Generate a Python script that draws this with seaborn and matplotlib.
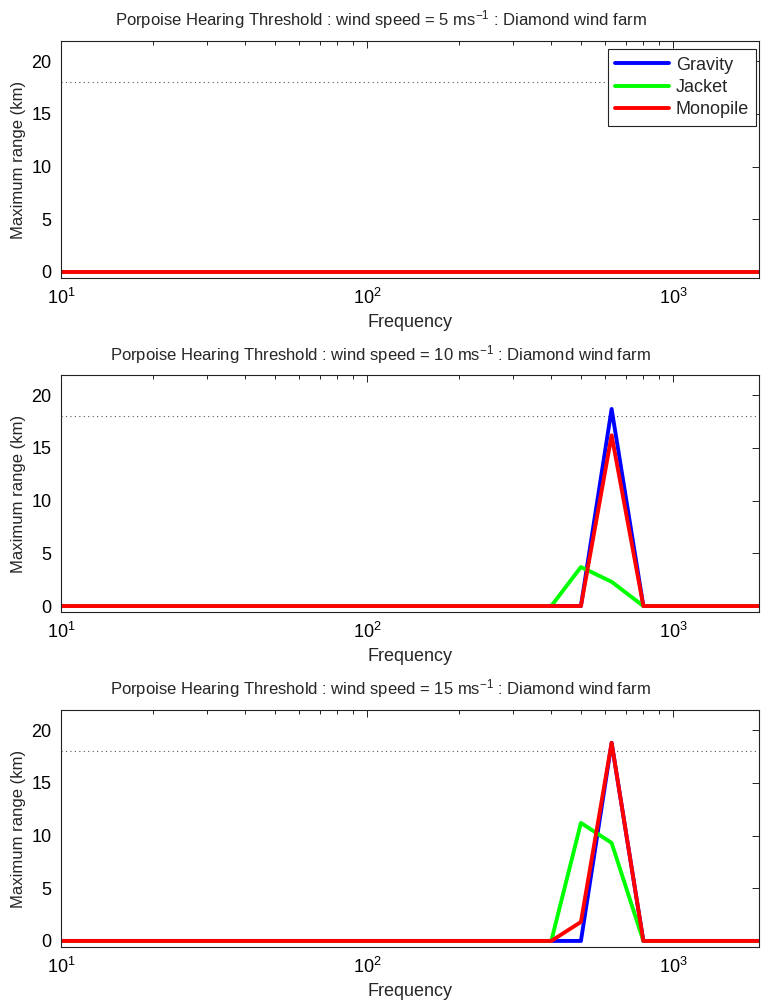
import pandas as pd
import matplotlib
matplotlib.use("Agg")
import matplotlib.pyplot as plt
import matplotlib.ticker as mticker
import seaborn as sns

# third-octave band centre frequencies (Hz)
freqs = [10, 12.5, 16, 20, 25, 31.5, 40, 50, 63, 80, 100, 125, 160, 200,
         250, 315, 400, 500, 630, 800, 1000, 1250, 1600, 2000]

foundations = ["Gravity", "Jacket", "Monopile"]
wind_speeds = [5, 10, 15]

# maximum range (km) per band, one list per foundation and wind speed
gravity_5 = [0, 0, 0, 0, 0, 0, 0, 0, 0, 0, 0, 0, 0, 0, 0, 0, 0, 0, 0, 0, 0, 0, 0, 0]
jacket_5 = [0, 0, 0, 0, 0, 0, 0, 0, 0, 0, 0, 0, 0, 0, 0, 0, 0, 0, 0, 0, 0, 0, 0, 0]
monopile_5 = [0, 0, 0, 0, 0, 0, 0, 0, 0, 0, 0, 0, 0, 0, 0, 0, 0, 0, 0, 0, 0, 0, 0, 0]

gravity_10 = [0, 0, 0, 0, 0, 0, 0, 0, 0, 0, 0, 0, 0, 0, 0, 0, 0, 0, 18.7, 0, 0, 0, 0, 0]
jacket_10 = [0, 0, 0, 0, 0, 0, 0, 0, 0, 0, 0, 0, 0, 0, 0, 0, 0, 3.7, 2.3, 0, 0, 0, 0, 0]
monopile_10 = [0, 0, 0, 0, 0, 0, 0, 0, 0, 0, 0, 0, 0, 0, 0, 0, 0, 0, 16.2, 0, 0, 0, 0, 0]

gravity_15 = [0, 0, 0, 0, 0, 0, 0, 0, 0, 0, 0, 0, 0, 0, 0, 0, 0, 0, 18.8, 0, 0, 0, 0, 0]
jacket_15 = [0, 0, 0, 0, 0, 0, 0, 0, 0, 0, 0, 0, 0, 0, 0, 0, 0, 11.2, 9.3, 0, 0, 0, 0, 0]
monopile_15 = [0, 0, 0, 0, 0, 0, 0, 0, 0, 0, 0, 0, 0, 0, 0, 0, 0, 1.8, 18.8, 0, 0, 0, 0, 0]

threshold_km = 18

series = {
    5: [gravity_5, jacket_5, monopile_5],
    10: [gravity_10, jacket_10, monopile_10],
    15: [gravity_15, jacket_15, monopile_15],
}

palette = {"Gravity": "#0000ff", "Jacket": "#00ff00", "Monopile": "#ff0000"}

sns.set_style("white")
plt.rcParams["font.family"] = ["Liberation Sans", "DejaVu Sans"]
plt.rcParams["mathtext.fontset"] = "custom"
plt.rcParams["mathtext.rm"] = "Liberation Sans"
plt.rcParams["mathtext.it"] = "Liberation Sans:italic"
plt.rcParams["mathtext.bf"] = "Liberation Sans:bold"

fig = plt.figure(figsize=(7.63, 10.06), dpi=100)

left, width, height = 0.0803, 0.9144, 0.2357
bottoms = [0.7234, 0.3913, 0.0584]

for i, ws in enumerate(wind_speeds):
    ax = fig.add_axes([left, bottoms[i], width, height])

    rows = []
    for name, vals in zip(foundations, series[ws]):
        for f, v in zip(freqs, vals):
            rows.append({"freq": f, "range": v, "foundation": name})
    df = pd.DataFrame(rows)

    ax.axhline(threshold_km, color="#555555", linestyle=(0, (1, 3)), linewidth=0.8)
    sns.lineplot(data=df, x="freq", y="range", hue="foundation",
                 hue_order=foundations, palette=palette, linewidth=2.8,
                 ax=ax, legend=(i == 0), estimator=None)

    ax.set_xscale("log")
    ax.set_xlim(10, 1910)
    ax.set_ylim(-0.6, 21.9)
    ax.set_yticks([0, 5, 10, 15, 20])
    ax.xaxis.set_major_locator(mticker.LogLocator(base=10))
    ax.xaxis.set_minor_locator(mticker.LogLocator(base=10, subs=range(2, 10)))
    ax.xaxis.set_minor_formatter(mticker.NullFormatter())
    ax.tick_params(which="both", direction="in", top=True, right=True,
                   labelsize=13, width=0.7, colors="#222222", labelcolor="black")
    ax.tick_params(which="major", length=5, pad=7)
    ax.tick_params(which="minor", length=3)
    for sp in ax.spines.values():
        sp.set_color("#222222")
        sp.set_linewidth(0.8)

    ax.set_xlabel("Frequency", fontsize=13, labelpad=4)
    ax.set_ylabel("Maximum range (km)", fontsize=12, labelpad=4)
    ax.set_title("Porpoise Hearing Threshold : wind speed = %d ms$^{-1}$ : Diamond wind farm" % ws,
                 fontsize=12, pad=11, x=0.458)

    if i == 0:
        leg = ax.legend(loc="upper right", bbox_to_anchor=(0.996, 0.965),
                        fancybox=False, framealpha=1, edgecolor="#222222",
                        fontsize=13, handlelength=3.0, borderaxespad=0,
                        labelspacing=0.3, borderpad=0.4, handletextpad=0.35)
        leg.get_frame().set_linewidth(0.8)
        for line in leg.get_lines():
            line.set_linewidth(2.8)

fig.savefig("out.png", dpi=100)
